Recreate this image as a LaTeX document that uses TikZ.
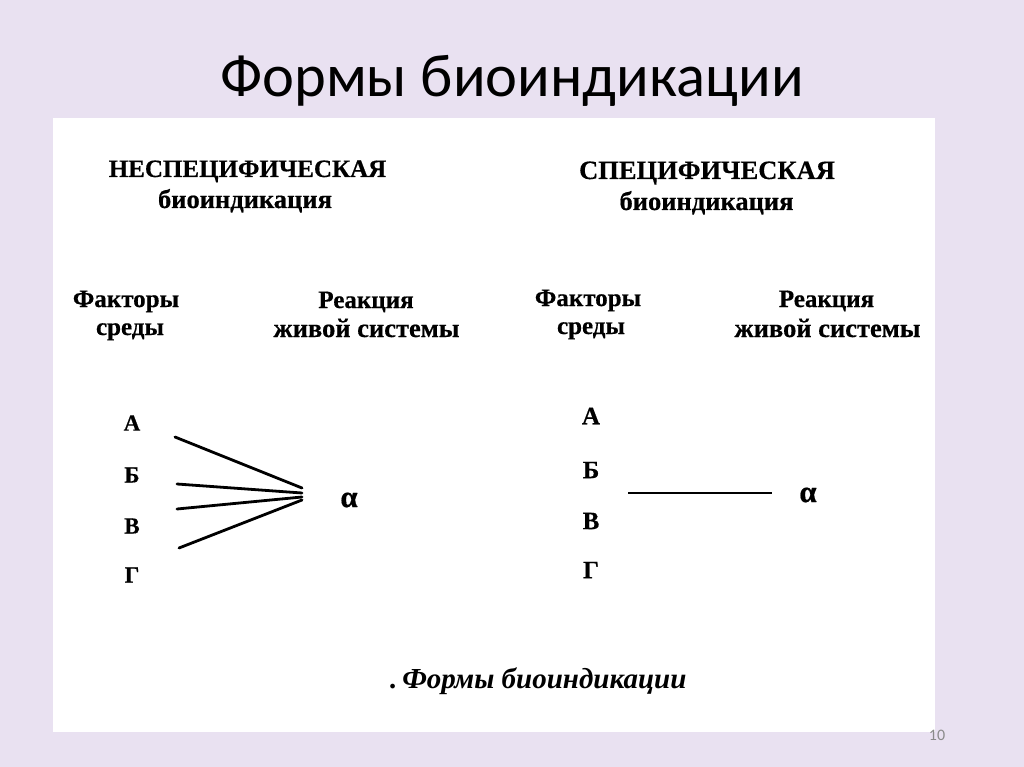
\documentclass[tikz,border=0pt]{standalone}
\usepackage{fontspec}
\setmainfont{Liberation Serif}[BoldFeatures={FakeBold=0.5}]
\newfontfamily\titlefont{Carlito}
\definecolor{slidebg}{HTML}{E9E1F1}
\definecolor{pagenum}{HTML}{8A8A8A}
\tikzset{
  lbl/.style={font=\bfseries\fontsize{25}{29}\selectfont, inner sep=0pt, anchor=base},
  sml/.style={font=\bfseries\fontsize{26.5}{29}\selectfont, inner sep=0pt, anchor=base},
  big/.style={font=\bfseries\fontsize{31}{34}\selectfont, inner sep=0pt},
  letterL/.style={font=\bfseries\fontsize{23}{25}\selectfont, inner sep=0pt},
  letterR/.style={font=\bfseries\fontsize{25}{29}\selectfont, inner sep=0pt},
  conn/.style={line width=2.8pt, line cap=round},
}
\begin{document}
\begin{tikzpicture}[x=1pt,y=-1pt]
\useasboundingbox (0,0) rectangle (1024,767);
\fill[slidebg] (0,0) rectangle (1024,767);
\fill[white] (53,118) rectangle (935,732);
\node[font=\titlefont\fontsize{60.5}{64}\selectfont, inner sep=0pt, anchor=base] (title) at (512,97) {Формы биоиндикации};
\node[font=\titlefont\fontsize{16}{18}\selectfont, text=pagenum, inner sep=0pt] (page) at (937,735) {10};
% left block
\node[lbl] (h1) at (247.5,177) {НЕСПЕЦИФИЧЕСКАЯ};
\node[sml] (h1b) at (245,208) {биоиндикация};
\node[lbl] (f1) at (126,307) {Факторы};
\node[lbl] (f1b) at (130,335) {среды};
\node[lbl] (r1) at (366,308) {Реакция};
\node[sml] (r1b) at (366.5,337) {живой системы};
\node[letterL] (A1) at (132,423) {А};
\node[letterL] (B1) at (132,475) {Б};
\node[letterL] (V1) at (132,526) {В};
\node[letterL] (G1) at (132,575) {Г};
\node[big] (al1) at (349,500) {α};
\coordinate (a1s) at (175,437);
\coordinate (b1s) at (177,484);
\coordinate (v1s) at (177,509);
\coordinate (g1s) at (179,548);
\coordinate (a1e) at (302,488);
\coordinate (b1e) at (302,493);
\coordinate (v1e) at (302,497);
\coordinate (g1e) at (302,500);
\draw[conn] (a1s) -- (a1e);
\draw[conn] (b1s) -- (b1e);
\draw[conn] (v1s) -- (v1e);
\draw[conn] (g1s) -- (g1e);
% right block
\node[sml] (h2) at (707,179) {СПЕЦИФИЧЕСКАЯ};
\node[sml] (h2b) at (706.5,210) {биоиндикация};
\node[lbl] (f2) at (588,306) {Факторы};
\node[lbl] (f2b) at (591,334) {среды};
\node[lbl] (r2) at (826.5,307) {Реакция};
\node[sml] (r2b) at (827.5,337) {живой системы};
\node[letterR] (A2) at (591,416) {А};
\node[letterR] (B2) at (591,470) {Б};
\node[letterR] (V2) at (591,521) {В};
\node[letterR] (G2) at (591,570) {Г};
\node[big] (al2) at (808,495) {α};
\coordinate (s2) at (628,493);
\coordinate (e2) at (772,493);
\draw[line width=2.4pt] (s2) -- (e2);
% caption
\node[font=\bfseries\itshape\fontsize{29}{33}\selectfont, inner sep=0pt, anchor=base west] (cap) at (390,688) {.\,Формы биоиндикации};
\end{tikzpicture}
\end{document}
